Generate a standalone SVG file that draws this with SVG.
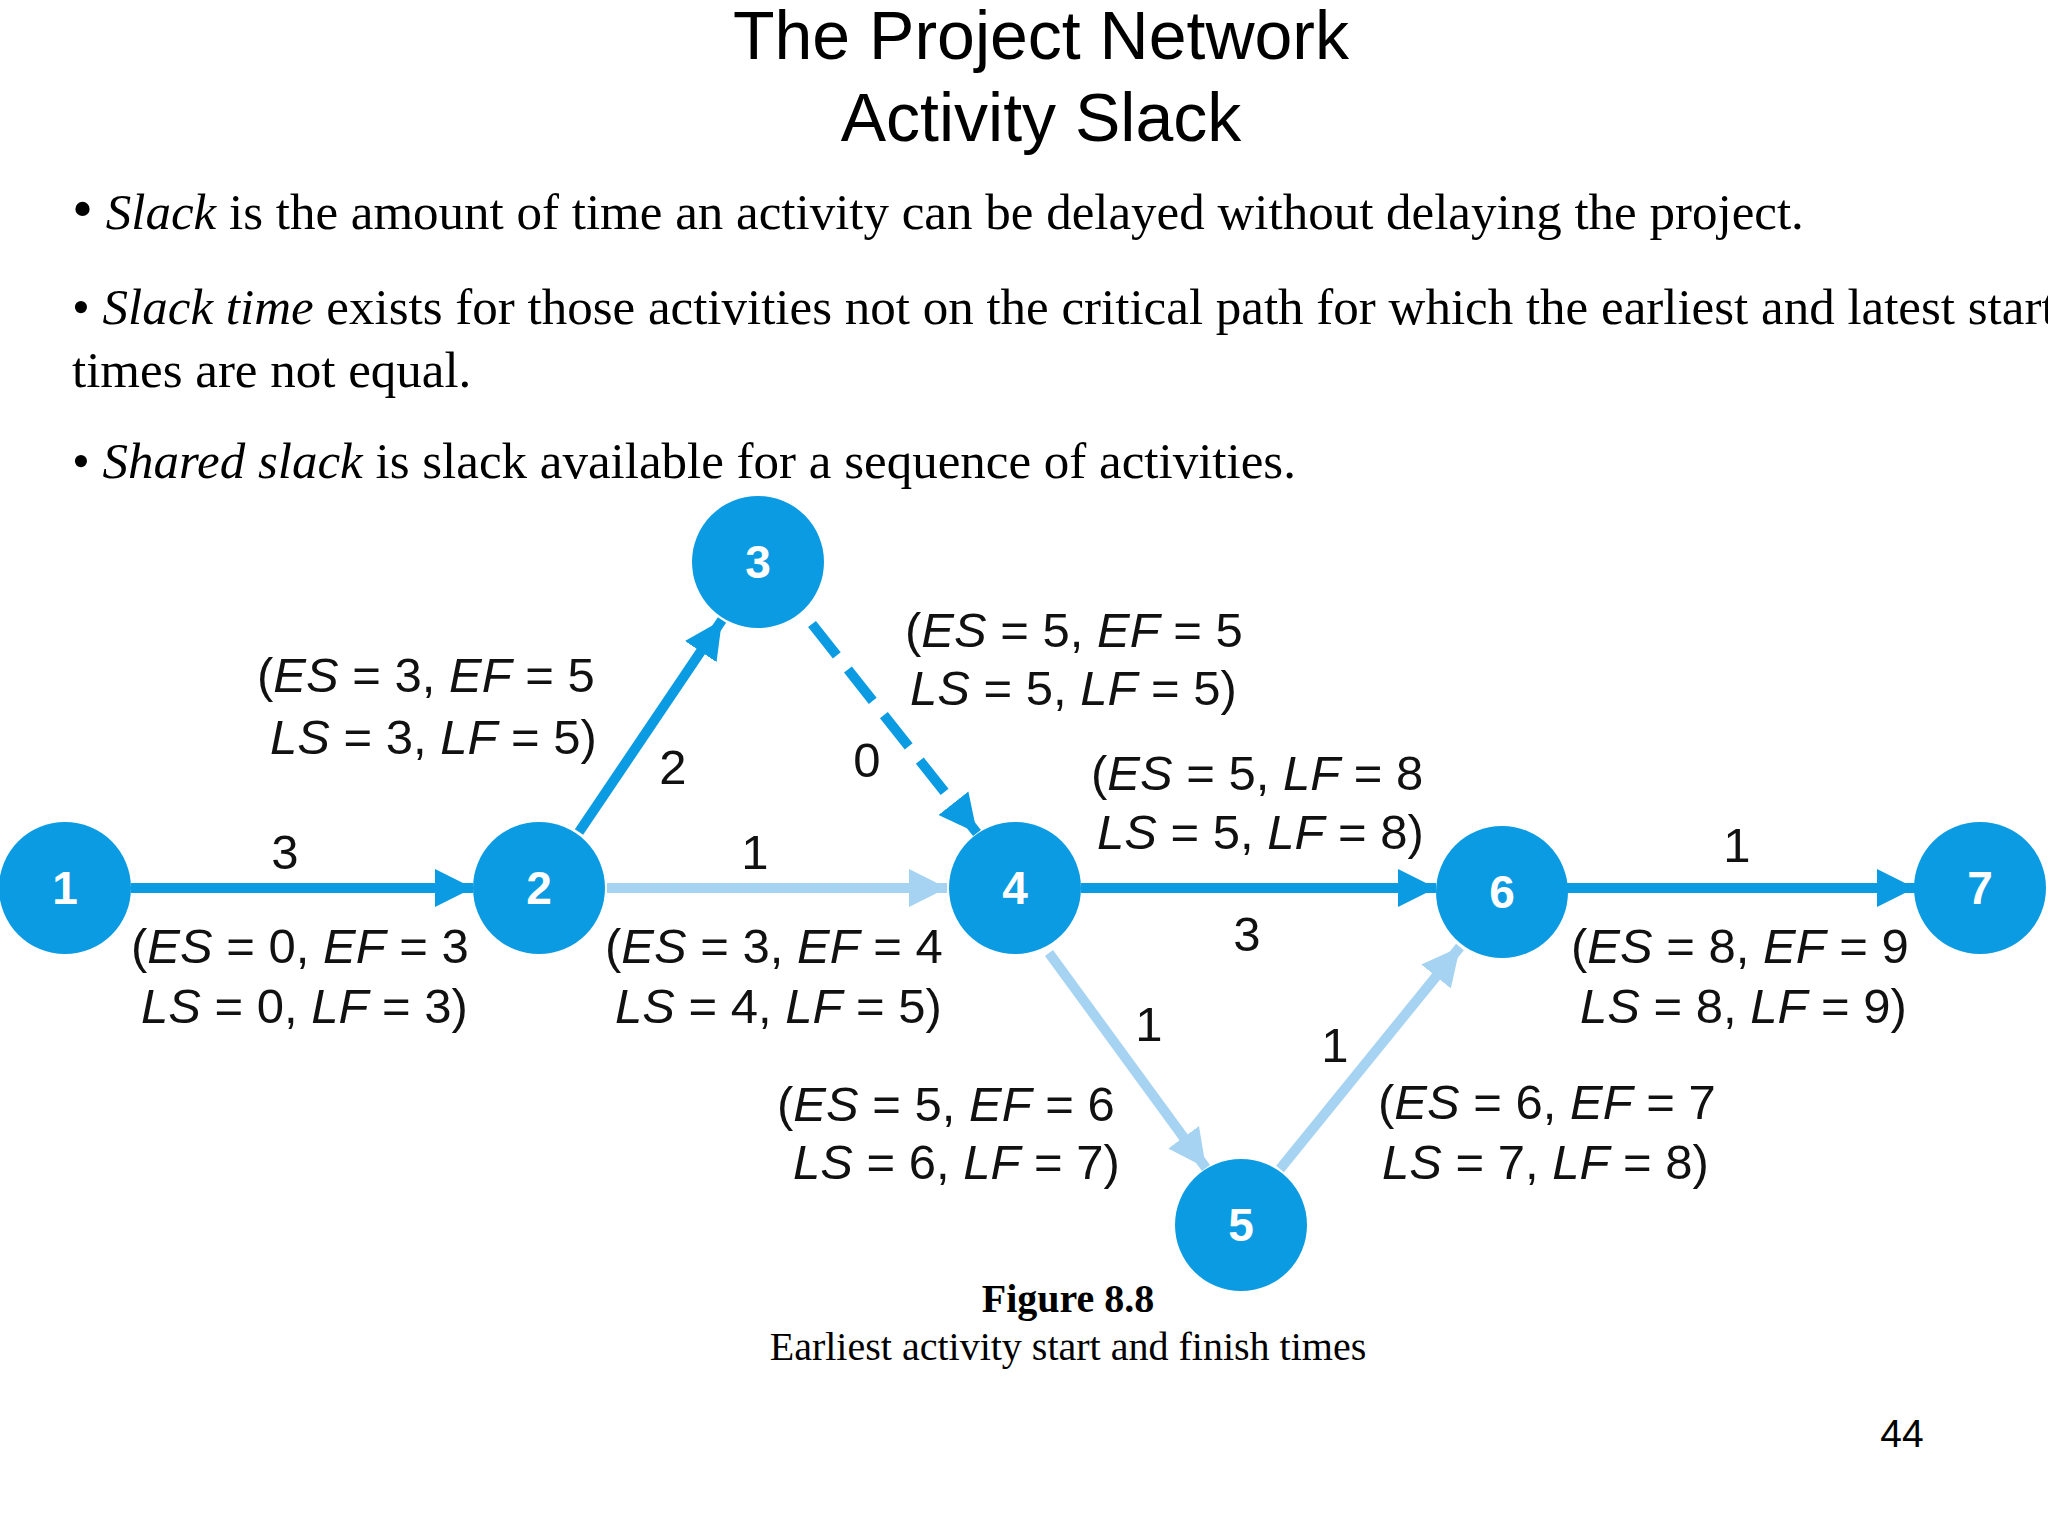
<svg xmlns="http://www.w3.org/2000/svg" width="2048" height="1536" viewBox="0 0 2048 1536">
<style>
.t{font-family:"Liberation Sans",Arial,sans-serif;fill:#000}
.s{font-family:"Liberation Serif","Times New Roman",serif;fill:#000;font-size:51px}
.cap{font-family:"Liberation Serif","Times New Roman",serif;fill:#000;font-size:40px;text-anchor:middle}
.lb{font-family:"Liberation Sans",Arial,sans-serif;font-size:49px;fill:#111}
.nd{fill:#0b9be2}
.nt{font-family:"Liberation Sans",Arial,sans-serif;font-size:46px;font-weight:bold;fill:#fff;text-anchor:middle}
.e{stroke:#0b9be2;stroke-width:10;fill:none}
.l{stroke:#a6d3f2;stroke-width:10;fill:none}
</style>
<defs>
<marker id="ad" viewBox="0 0 10 10" refX="10" refY="5" markerWidth="3.8" markerHeight="4.4" orient="auto" markerUnits="strokeWidth"><path d="M0,0L10,5L0,10z" fill="#0b9be2"/></marker>
<marker id="al" viewBox="0 0 10 10" refX="10" refY="5" markerWidth="3.8" markerHeight="4.4" orient="auto" markerUnits="strokeWidth"><path d="M0,0L10,5L0,10z" fill="#a6d3f2"/></marker>
</defs>
<rect width="2048" height="1536" fill="#fff"/>
<text class="t" x="1041" y="59" font-size="68" text-anchor="middle">The Project Network</text>
<text class="t" x="1041" y="141" font-size="68" text-anchor="middle">Activity Slack</text>
<text class="s" x="72" y="229"><tspan font-size="60">•</tspan> <tspan font-style="italic">Slack</tspan> is the amount of time an activity can be delayed without delaying the project.</text>
<text class="s" x="72" y="324">• <tspan font-style="italic">Slack time</tspan> exists for those activities not on the critical path for which the earliest and latest start</text>
<text class="s" x="72" y="387">times are not equal.</text>
<text class="s" x="72" y="478">• <tspan font-style="italic">Shared slack</tspan>  is slack available for a sequence of activities.</text>
<g id="connectors">
<line class="e" x1="131" y1="888" x2="473" y2="888" marker-end="url(#ad)"/>
<line class="e" x1="579" y1="832" x2="722" y2="620" marker-end="url(#ad)"/>
<line class="l" x1="607" y1="888" x2="947" y2="888" marker-end="url(#al)"/>
<line class="e" x1="812" y1="624" x2="977" y2="833" stroke-dasharray="40,18" marker-end="url(#ad)"/>
<line class="e" x1="1081" y1="888" x2="1436" y2="888" marker-end="url(#ad)"/>
<line class="l" x1="1049" y1="953" x2="1206" y2="1168" marker-end="url(#al)"/>
<line class="l" x1="1280" y1="1169" x2="1460" y2="947" marker-end="url(#al)"/>
<line class="e" x1="1567" y1="888" x2="1915" y2="888" marker-end="url(#ad)"/>
</g>
<g id="n1"><circle class="nd" cx="65" cy="888" r="66"/><text class="nt" x="65" y="904">1</text></g>
<g id="n2"><circle class="nd" cx="539" cy="888" r="66"/><text class="nt" x="539" y="904">2</text></g>
<g id="n3"><circle class="nd" cx="758" cy="562" r="66"/><text class="nt" x="758" y="578">3</text></g>
<g id="n4"><circle class="nd" cx="1015" cy="888" r="66"/><text class="nt" x="1015" y="904">4</text></g>
<g id="n5"><circle class="nd" cx="1241" cy="1225" r="66"/><text class="nt" x="1241" y="1241">5</text></g>
<g id="n6"><circle class="nd" cx="1502" cy="892" r="66"/><text class="nt" x="1502" y="908">6</text></g>
<g id="n7"><circle class="nd" cx="1980" cy="888" r="66"/><text class="nt" x="1980" y="904">7</text></g>
<g class="lb" text-anchor="middle">
<text x="285" y="869">3</text><text x="673" y="784">2</text><text x="755" y="869">1</text><text x="867" y="777">0</text>
<text x="1247" y="951">3</text><text x="1737" y="862">1</text><text x="1149" y="1041">1</text><text x="1335" y="1062">1</text>
</g>
<g class="lb">
<text x="257" y="692">(<tspan font-style="italic">ES</tspan> = 3, <tspan font-style="italic">EF</tspan> = 5</text>
<text x="270" y="754"><tspan font-style="italic">LS</tspan> = 3, <tspan font-style="italic">LF</tspan> = 5)</text>
<text x="905" y="647">(<tspan font-style="italic">ES</tspan> = 5, <tspan font-style="italic">EF</tspan> = 5</text>
<text x="910" y="705"><tspan font-style="italic">LS</tspan> = 5, <tspan font-style="italic">LF</tspan> = 5)</text>
<text x="1091" y="790">(<tspan font-style="italic">ES</tspan> = 5, <tspan font-style="italic">LF</tspan> = 8</text>
<text x="1097" y="849"><tspan font-style="italic">LS</tspan> = 5, <tspan font-style="italic">LF</tspan> = 8)</text>
<text x="131" y="963">(<tspan font-style="italic">ES</tspan> = 0, <tspan font-style="italic">EF</tspan> = 3</text>
<text x="141" y="1023"><tspan font-style="italic">LS</tspan> = 0, <tspan font-style="italic">LF</tspan> = 3)</text>
<text x="605" y="963">(<tspan font-style="italic">ES</tspan> = 3, <tspan font-style="italic">EF</tspan> = 4</text>
<text x="615" y="1023"><tspan font-style="italic">LS</tspan> = 4, <tspan font-style="italic">LF</tspan> = 5)</text>
<text x="1571" y="963">(<tspan font-style="italic">ES</tspan> = 8, <tspan font-style="italic">EF</tspan> = 9</text>
<text x="1580" y="1023"><tspan font-style="italic">LS</tspan> = 8, <tspan font-style="italic">LF</tspan> = 9)</text>
<text x="777" y="1121">(<tspan font-style="italic">ES</tspan> = 5, <tspan font-style="italic">EF</tspan> = 6</text>
<text x="793" y="1179"><tspan font-style="italic">LS</tspan> = 6, <tspan font-style="italic">LF</tspan> = 7)</text>
<text x="1378" y="1119">(<tspan font-style="italic">ES</tspan> = 6, <tspan font-style="italic">EF</tspan> = 7</text>
<text x="1382" y="1179"><tspan font-style="italic">LS</tspan> = 7, <tspan font-style="italic">LF</tspan> = 8)</text>
</g>
<text class="cap" x="1068" y="1312" font-weight="bold">Figure 8.8</text>
<text class="cap" x="1068" y="1360">Earliest activity start and finish times</text>
<text class="t" x="1902" y="1447" font-size="39" text-anchor="middle">44</text>
</svg>
